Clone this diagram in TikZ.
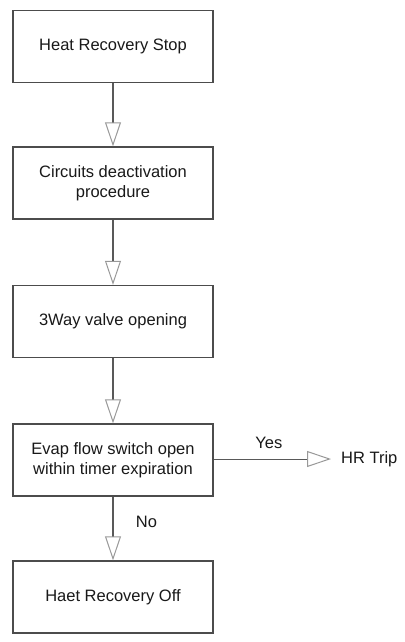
\documentclass[tikz,border=0pt]{standalone}
\usepackage{fontspec}
\setmainfont{Liberation Sans}
\usetikzlibrary{arrows.meta}
\begin{document}
\begin{tikzpicture}[x=1pt,y=-1pt,
  txt/.style={font=\fontsize{16.5}{20}\selectfont, text=black!90},
  box/.style={txt, draw=black!70, line width=1.4pt, minimum width=200pt, minimum height=72pt, align=center, inner sep=0pt},
  flow/.style={draw=black!65, line width=1.3pt, -{Triangle[open, length=24pt, width=16pt, color=black!40, line width=1pt]}}]
\useasboundingbox[fill=white] (0,0) rectangle (404,642);
\node[box] (b1) at (113,46.5) {Heat Recovery Stop};
\node[box] (b2) at (113,183) {Circuits deactivation\\procedure};
\node[box] (b3) at (113,321.5) {3Way valve opening};
\node[box] (b4) at (113,460) {Evap flow switch open\\within timer expiration};
\node[box] (b5) at (113,597) {Haet Recovery Off};
\node[txt, anchor=west, inner xsep=10pt, inner ysep=0pt] (trip) at (331,459) {HR Trip};
\draw[flow] (b1) -- (b2);
\draw[flow] (b2) -- (b3);
\draw[flow] (b3) -- (b4);
\draw[flow] (b4) -- node[txt, pos=0.4, anchor=west, xshift=19pt] (no) {No} (b5);
\draw[flow, line width=1pt] (b4.east |- trip.west) -- node[txt, pos=0.47, above=7pt] (yes) {Yes} (trip.west);
\end{tikzpicture}
\end{document}
